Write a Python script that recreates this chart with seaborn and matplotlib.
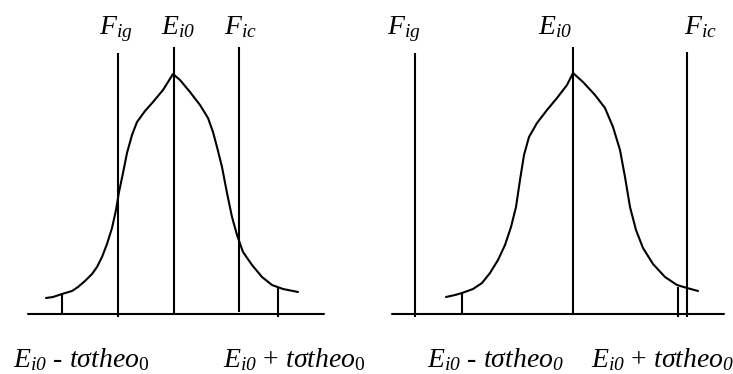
#%% Import of required libraries
import numpy as np
import seaborn as sns
import matplotlib.pyplot as plt

#%% *** 1. DATA ***
# x = horizontal position inside each panel, h = height above the baseline

# A. Left panel: bell curve, limit lines, t-sigma ticks
left_curve_x = [46, 53, 62, 72, 78, 85, 92, 97, 102, 107, 112, 116, 119, 123, 127, 132,
                137, 145, 153, 163, 173, 180, 190, 200, 208, 213, 217, 222, 227, 232,
                237, 243, 252, 262, 272, 283, 298]
left_curve_h = [16, 17, 20, 23, 27, 33, 40, 47, 57, 70, 86, 104, 122, 141, 161, 179,
                192, 203, 212, 224, 240, 234, 222, 209, 196, 182, 167, 147, 121, 97,
                79, 62, 49, 37, 29, 25, 22]
left_lines_x = [118, 173.5, 239]          # F_ig, E_i0, F_ic
left_lines_lo = [-3, 0, 2]
left_lines_hi = [261, 267, 267]
left_ticks_x = [62, 278]                  # E_i0 -/+ t sigma theo_0
left_ticks_lo = [-1, -3]
left_ticks_hi = [21, 27]
left_base = [28, 324]
left_top_x = [116, 178, 240]
left_bottom_x = [13, 223]

# B. Right panel
right_curve_x = [80, 89, 96, 107, 116, 124, 132, 139, 145, 150, 154, 158, 163, 171,
                 181, 191, 201, 207, 217, 229, 239, 247, 254, 259, 264, 270, 277, 287,
                 299, 311, 321, 332]
right_curve_h = [17, 19, 21, 25, 31, 41, 54, 69, 87, 107, 134, 159, 177, 191,
                 204, 216, 229, 241, 232, 219, 206, 187, 164, 137, 107, 84, 66, 50,
                 37, 29, 26, 23]
right_lines_x = [49, 207, 321]
right_lines_lo = [-3, 0, -3]
right_lines_hi = [261, 267, 262]
right_ticks_x = [96, 312]
right_ticks_lo = [1, -3]
right_ticks_hi = [22, 27]
right_base = [26, 358]
right_top_x = [38, 189, 334]
right_bottom_x = [61, 225]

# C. Labels
top_labels = [r'$F_{ig}$', r'$E_{i0}$', r'$F_{ic}$']
left_bottom_labels = [r'$E_{i0}$ - $t\sigma theo_{\mathsf{0}}$',
                      r'$E_{i0}$ + $t\sigma theo_{\mathsf{0}}$']
right_bottom_labels = [r'$E_{i0}$ - $t\sigma theo_{0}$',
                       r'$E_{i0}$ + $t\sigma theo_{0}$']

#%% *** 2. STYLE ***
sns.set_theme(style='white')
plt.rcParams['font.family'] = ['Liberation Serif', 'DejaVu Serif']
plt.rcParams['mathtext.fontset'] = 'custom'
plt.rcParams['mathtext.it'] = 'Liberation Serif:italic'
plt.rcParams['mathtext.rm'] = 'Liberation Serif:italic'
plt.rcParams['mathtext.sf'] = 'Liberation Serif'

LW = 1.5

#%% *** 3. DRAWING ***
fig = plt.figure(figsize=(7.33, 3.74), dpi=100)
ax_left = fig.add_axes([0, 0, 366 / 733, 1])
ax_right = fig.add_axes([366 / 733, 0, 367 / 733, 1])

panels = [
    (ax_left, 366, left_curve_x, left_curve_h, left_lines_x, left_lines_lo, left_lines_hi,
     left_ticks_x, left_ticks_lo, left_ticks_hi, left_base, left_top_x, left_bottom_x,
     left_bottom_labels),
    (ax_right, 367, right_curve_x, right_curve_h, right_lines_x, right_lines_lo, right_lines_hi,
     right_ticks_x, right_ticks_lo, right_ticks_hi, right_base, right_top_x, right_bottom_x,
     right_bottom_labels),
]

for (ax, width, cx, ch, lx, llo, lhi, tx, tlo, thi, base, top_x, bot_x, bot_labels) in panels:
    # bell curve
    sns.lineplot(x=cx, y=ch, sort=False, color='black', linewidth=LW, ax=ax)
    # baseline
    sns.lineplot(x=base, y=[0, 0], color='black', linewidth=LW, ax=ax)
    # vertical limit lines and ticks
    ax.vlines(lx, llo, lhi, color='black', linewidth=LW)
    ax.vlines(tx, tlo, thi, color='black', linewidth=LW)

    for x, lab in zip(top_x, top_labels):
        ax.text(x, 280, lab, ha='center', va='baseline', fontsize=20, color='black')
    for x, lab in zip(bot_x, bot_labels):
        ax.text(x, -53, lab, ha='left', va='baseline', fontsize=20, color='black')

    ax.set_xlim(0, width)
    ax.set_ylim(-60, 314)
    ax.axis('off')

plt.savefig('out.png', dpi=100)
